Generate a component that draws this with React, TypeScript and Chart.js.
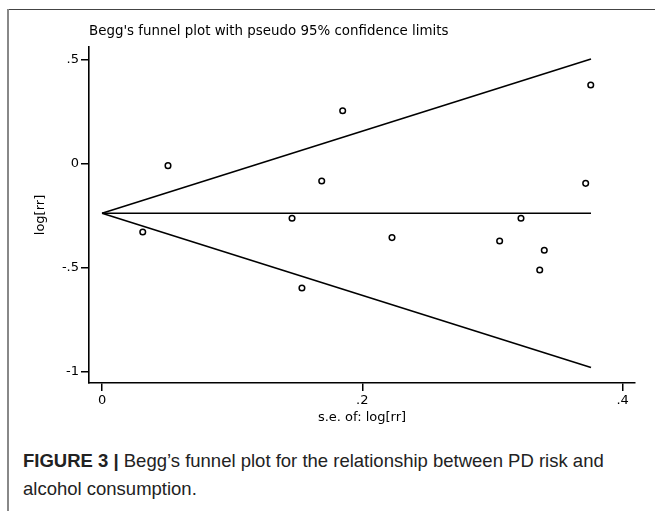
import React, { useEffect, useRef } from "react";
import { Chart, registerables } from "chart.js";

Chart.register(...registerables);

// Study estimates
const seValues = [0.0313, 0.0507, 0.146, 0.1536, 0.1688, 0.1849, 0.2228, 0.3055, 0.3219, 0.3398, 0.3363, 0.3716, 0.3755];
const logRrValues = [-0.327, -0.008, -0.261, -0.596, -0.082, 0.256, -0.354, -0.37, -0.261, -0.415, -0.51, -0.093, 0.38];

// Pseudo 95% confidence limits (endpoints)
const limitSe = [0, 0.3757];
const centerLine = [-0.237, -0.237];
const upperLimit = [-0.237, 0.505];
const lowerLimit = [-0.237, -0.978];

const xTicks = [0, 0.2, 0.4];
const yTicks = [-1, -0.5, 0, 0.5];

const fmt = (v: number) => {
  if (v === 0) return "0";
  const s = String(Math.abs(v)).replace(/^0/, "");
  return (v < 0 ? "-" : "") + s;
};

const FONT = "DejaVu Sans";

export default function App() {
  const ref = useRef<HTMLCanvasElement | null>(null);

  useEffect(() => {
    if (!ref.current) return;
    const pts = seValues.map((x, i) => ({ x, y: logRrValues[i] }));
    const mk = (ys: number[]) => limitSe.map((x, i) => ({ x, y: ys[i] }));
    const lineDs = (label: string, ys: number[]) => ({
      type: "line" as const,
      label,
      data: mk(ys),
      borderColor: "#000",
      borderWidth: 1.6,
      pointRadius: 0,
      fill: false,
      tension: 0,
    });
    const chart = new Chart(ref.current, {
      type: "scatter",
      data: {
        datasets: [
          lineDs("center", centerLine),
          lineDs("upper", upperLimit),
          lineDs("lower", lowerLimit),
          {
            type: "scatter",
            label: "studies",
            data: pts,
            pointRadius: 2.8,
            pointBorderWidth: 1.5,
            pointBorderColor: "#000",
            pointBackgroundColor: "#fff",
            showLine: false,
          },
        ],
      },
      options: {
        animation: false,
        responsive: false,
        devicePixelRatio: 1,
        layout: { padding: { top: 47, right: 20, left: 0, bottom: 0 } },
        plugins: {
          legend: { display: false },
          tooltip: { enabled: false },
          title: { display: false },
        },
        scales: {
          x: {
            type: "linear",
            min: -0.01,
            max: 0.4095,
            afterBuildTicks: (s: any) => {
              s.ticks = xTicks.map((v) => ({ value: v }));
            },
            afterFit: (s: any) => {
              s.height = 47;
            },
            ticks: {
              callback: (v: any) => fmt(Number(v)),
              color: "#000",
              font: { family: FONT, size: 13 },
              padding: 2,
              maxRotation: 0,
              autoSkip: false,
            },
            grid: {
              drawOnChartArea: false,
              drawTicks: true,
              tickLength: 8,
              color: "#000",
              lineWidth: 1.5,
            },
            border: { display: true, color: "#000", width: 1.6 },
            title: {
              display: true,
              text: "s.e. of: log[rr]",
              color: "#000",
              font: { family: FONT, size: 13 },
              padding: { top: 0, bottom: 5 },
            },
          },
          y: {
            type: "linear",
            min: -1.053,
            max: 0.5625,
            afterBuildTicks: (s: any) => {
              s.ticks = yTicks.map((v) => ({ value: v }));
            },
            afterFit: (s: any) => {
              s.width = 89;
            },
            ticks: {
              callback: (v: any) => fmt(Number(v)),
              color: "#000",
              font: { family: FONT, size: 13 },
              padding: 2,
              autoSkip: false,
            },
            grid: {
              drawOnChartArea: false,
              drawTicks: true,
              tickLength: 8,
              color: "#000",
              lineWidth: 1.5,
            },
            border: { display: true, color: "#000", width: 1.6 },
            title: {
              display: true,
              text: "log[rr]",
              color: "#000",
              font: { family: FONT, size: 13 },
              padding: { top: 33, bottom: 0 },
            },
          },
        },
      },
    });
    return () => chart.destroy();
  }, []);

  return (
    <div style={{ position: "absolute", left: 0, top: 0, width: 655, height: 511, background: "#fff", overflow: "hidden" }}>
      <div style={{ position: "absolute", left: 8, top: 9, right: 0, height: 1, background: "#444" }} />
      <div style={{ position: "absolute", left: 7, top: 9, width: 1.5, bottom: 0, background: "#888" }} />
      <canvas ref={ref} width={655} height={430} style={{ position: "absolute", left: 0, top: 0, display: "block" }} />
      <div
        style={{
          position: "absolute",
          left: 89,
          top: 22,
          fontFamily: FONT,
          fontSize: 13.4,
          color: "#000",
          whiteSpace: "nowrap",
          lineHeight: "18px",
        }}
      >
        Begg's funnel plot with pseudo 95% confidence limits
      </div>
      <div
        style={{
          position: "absolute",
          left: 23,
          top: 447,
          width: 610,
          fontFamily: "Liberation Sans, Arial, sans-serif",
          fontSize: 18.5,
          color: "#222",
          lineHeight: "28px",
        }}
      >
        <b>FIGURE 3 |</b> Begg’s funnel plot for the relationship between PD risk and alcohol consumption.
      </div>
    </div>
  );
}
